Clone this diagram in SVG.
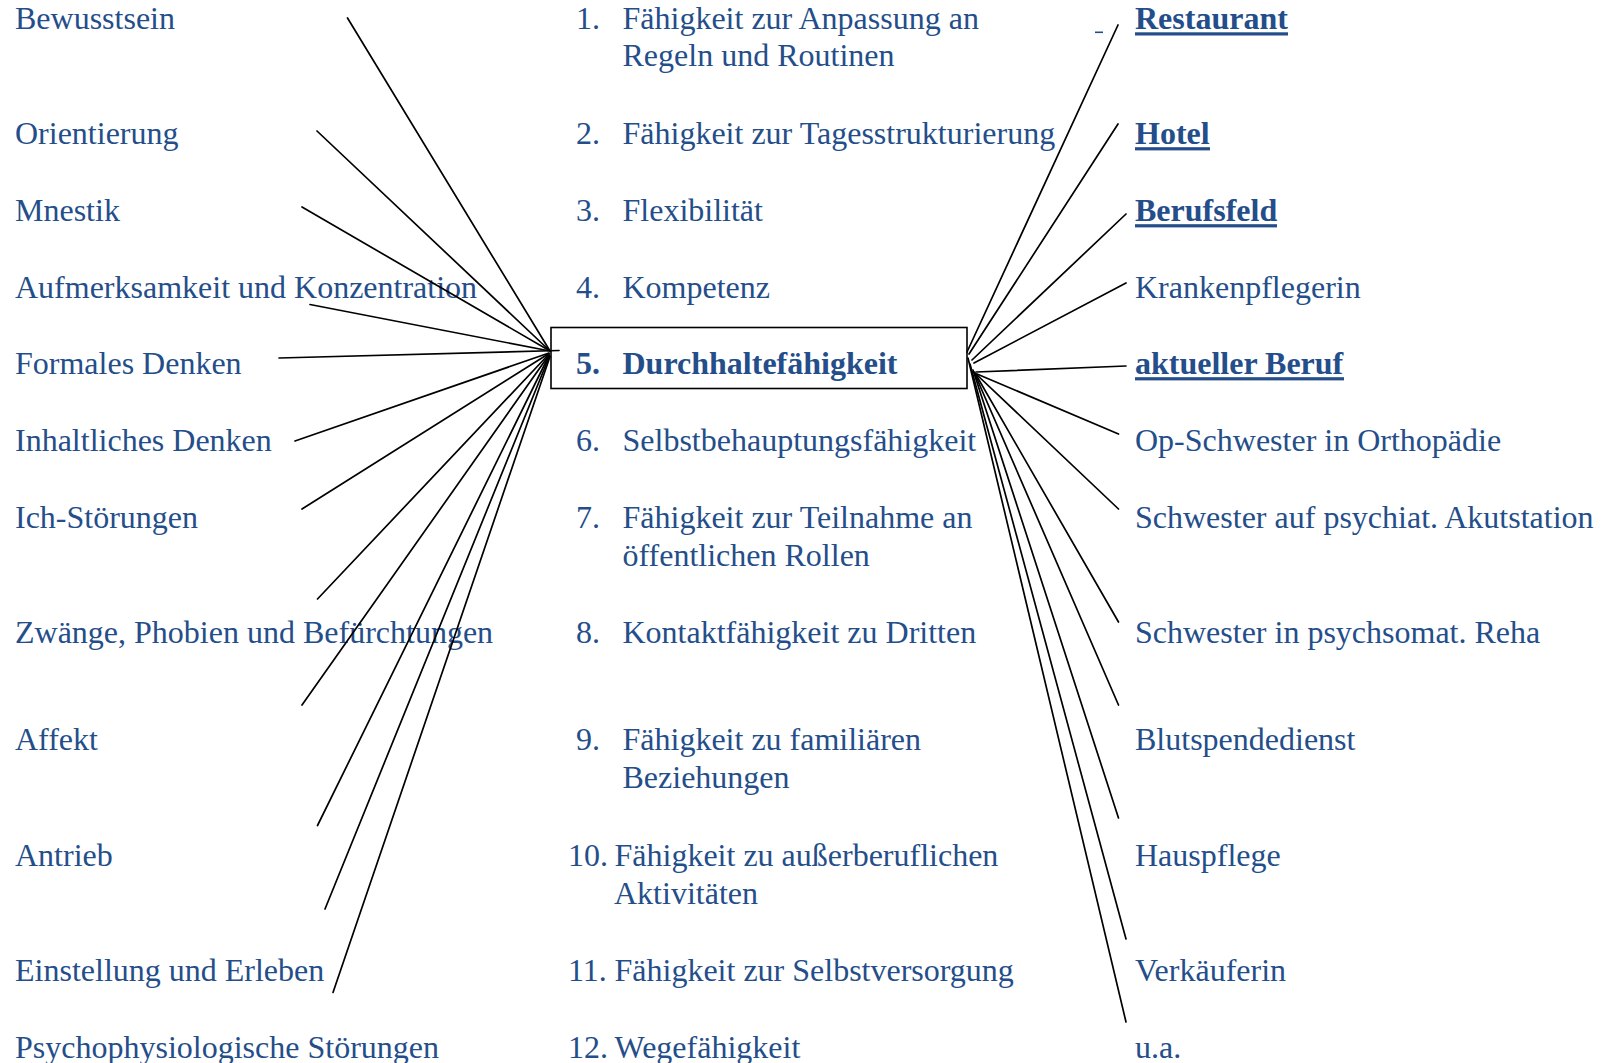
<svg xmlns="http://www.w3.org/2000/svg" width="1612" height="1063" viewBox="0 0 1612 1063">
<style>
text{font-family:"Liberation Serif","Times New Roman",serif;font-size:32px;fill:#244E8A}
.b{font-weight:bold}
.ul{fill:#244E8A}
.box{fill:none;stroke:#000;stroke-width:1.6}
#connectors line{stroke:#000;stroke-width:1.7;stroke-linecap:round}
</style>
<rect width="1612" height="1063" fill="#fff"/>
<g id="left">
<g id="l1"><text x="15" y="29">Bewusstsein</text></g>
<g id="l2"><text x="15" y="144">Orientierung</text></g>
<g id="l3"><text x="15" y="221">Mnestik</text></g>
<g id="l4"><text x="15" y="298">Aufmerksamkeit und Konzentration</text></g>
<g id="l5"><text x="15" y="374">Formales Denken</text></g>
<g id="l6"><text x="15" y="451">Inhaltliches Denken</text></g>
<g id="l7"><text x="15" y="528">Ich-Störungen</text></g>
<g id="l8"><text x="15" y="643">Zwänge, Phobien und Befürchtungen</text></g>
<g id="l9"><text x="15" y="750">Affekt</text></g>
<g id="l10"><text x="15" y="866">Antrieb</text></g>
<g id="l11"><text x="15" y="981">Einstellung und Erleben</text></g>
<g id="l12"><text x="15" y="1058">Psychophysiologische Störungen</text></g>
</g>
<g id="center">
<g id="c1"><text x="576" y="29">1.</text><text x="622.5" y="29">Fähigkeit zur Anpassung an</text><text x="622.5" y="66">Regeln und Routinen</text></g>
<g id="c2"><text x="576" y="144">2.</text><text x="622.5" y="144">Fähigkeit zur Tagesstrukturierung</text></g>
<g id="c3"><text x="576" y="221">3.</text><text x="622.5" y="221">Flexibilität</text></g>
<g id="c4"><text x="576" y="298">4.</text><text x="622.5" y="298">Kompetenz</text></g>
<g id="c5"><rect class="box" x="551" y="327.5" width="416" height="61"/><text class="b" x="576" y="374">5.</text><text class="b" x="622.5" y="374">Durchhaltefähigkeit</text></g>
<g id="c6"><text x="576" y="451">6.</text><text x="622.5" y="451">Selbstbehauptungsfähigkeit</text></g>
<g id="c7"><text x="576" y="528">7.</text><text x="622.5" y="528">Fähigkeit zur Teilnahme an</text><text x="622.5" y="566">öffentlichen Rollen</text></g>
<g id="c8"><text x="576" y="643">8.</text><text x="622.5" y="643">Kontaktfähigkeit zu Dritten</text></g>
<g id="c9"><text x="576" y="750">9.</text><text x="622.5" y="750">Fähigkeit zu familiären</text><text x="622.5" y="788">Beziehungen</text></g>
<g id="c10"><text x="568" y="866">10.</text><text x="614.5" y="866">Fähigkeit zu außerberuflichen</text><text x="614" y="904">Aktivitäten</text></g>
<g id="c11"><text x="568" y="981">11.</text><text x="614.5" y="981">Fähigkeit zur Selbstversorgung</text></g>
<g id="c12"><text x="568" y="1058">12.</text><text x="614.5" y="1058">Wegefähigkeit</text></g>
</g>
<g id="right">
<g id="r1"><rect class="ul" x="1095" y="31.5" width="8" height="1.6"/><text class="b" x="1135" y="29">Restaurant</text><rect class="ul" x="1135" y="32.3" width="153" height="3.2"/></g>
<g id="r2"><text class="b" x="1135" y="144">Hotel</text><rect class="ul" x="1135" y="147.2" width="75" height="3.2"/></g>
<g id="r3"><text class="b" x="1135" y="221">Berufsfeld</text><rect class="ul" x="1135" y="224.2" width="142" height="3.2"/></g>
<g id="r4"><text x="1135" y="298">Krankenpflegerin</text></g>
<g id="r5"><text class="b" x="1135" y="374">aktueller Beruf</text><rect class="ul" x="1135" y="377.2" width="209" height="3.2"/></g>
<g id="r6"><text x="1135" y="451">Op-Schwester in Orthopädie</text></g>
<g id="r7"><text x="1135" y="528">Schwester auf psychiat. Akutstation</text></g>
<g id="r8"><text x="1135" y="643">Schwester in psychsomat. Reha</text></g>
<g id="r9"><text x="1135" y="750">Blutspendedienst</text></g>
<g id="r10"><text x="1135" y="866">Hauspflege</text></g>
<g id="r11"><text x="1135" y="981">Verkäuferin</text></g>
<g id="r12"><text x="1135" y="1058">u.a.</text></g>
</g>
<g id="connectors">
<line x1="347.5" y1="18" x2="550" y2="351"/>
<line x1="317" y1="131" x2="550" y2="351"/>
<line x1="302" y1="207" x2="550" y2="351"/>
<line x1="310" y1="304.5" x2="550" y2="351"/>
<line x1="279" y1="358" x2="559" y2="350.5"/>
<line x1="295" y1="441" x2="549" y2="353"/>
<line x1="302" y1="509" x2="549" y2="353.5"/>
<line x1="317.5" y1="599" x2="549" y2="354"/>
<line x1="302" y1="705" x2="549" y2="355"/>
<line x1="317.5" y1="825.5" x2="549" y2="355.5"/>
<line x1="325" y1="909" x2="549.5" y2="356"/>
<line x1="333" y1="992.5" x2="550" y2="356.5"/>
<line x1="1118" y1="25" x2="967" y2="352"/>
<line x1="1118" y1="124" x2="969" y2="354"/>
<line x1="1126" y1="214" x2="972" y2="360"/>
<line x1="1126" y1="283" x2="974" y2="363"/>
<line x1="1126" y1="366" x2="976" y2="372"/>
<line x1="1118.5" y1="434" x2="977" y2="374"/>
<line x1="1118.5" y1="509" x2="976" y2="374"/>
<line x1="1118.5" y1="622" x2="975" y2="373"/>
<line x1="1118.5" y1="705" x2="974" y2="372"/>
<line x1="1118.5" y1="818" x2="973" y2="370"/>
<line x1="1126" y1="939" x2="970" y2="364"/>
<line x1="1126" y1="1022" x2="968" y2="358"/>
</g>
</svg>
